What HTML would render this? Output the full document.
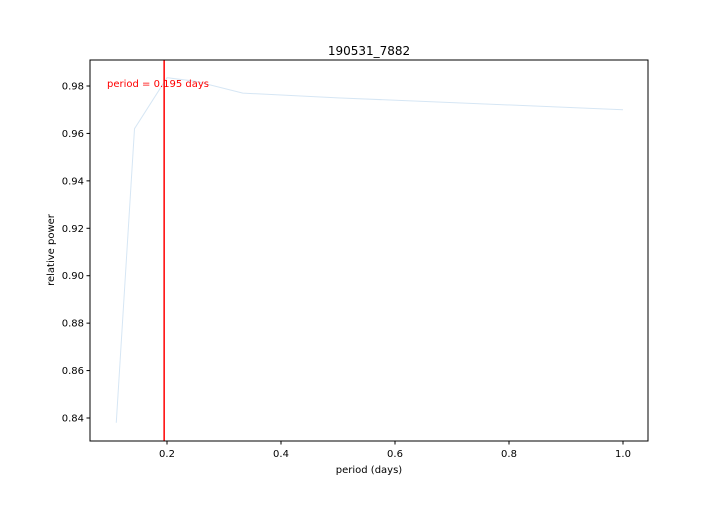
<!DOCTYPE html>
<html><head><meta charset="utf-8"><style>
body{margin:0;background:#fff;}
svg text{font-family:"DejaVu Sans","Liberation Sans",sans-serif;}
</style></head><body>
<svg id="chart" width="720" height="504">
<rect width="720" height="504" fill="#fff"/>
<text x="369" y="55" font-size="12" text-anchor="middle">190531_7882</text>
<g id="ticks"></g>
<g id="plot"></g>
<rect x="90" y="60" width="558" height="381" fill="none" stroke="#000" stroke-width="1"/>
<text x="247" y="473" font-size="10" text-anchor="middle" transform="translate(122,0)">period (days)</text>
<text transform="translate(54,250) rotate(-90)" font-size="10" text-anchor="middle">relative power</text>
</svg>
<script>
const periods=[0.111,0.143,0.2,0.25,0.333,0.5,1.0];
const powers=[0.838,0.962,0.9835,0.982,0.977,0.975,0.970];
const xTicks=[0.2,0.4,0.6,0.8,1.0];
const yTicks=[0.84,0.86,0.88,0.90,0.92,0.94,0.96,0.98];
const bestPeriod=0.195;
const X=v=>53+570*v;
const Y=v=>86+(0.98-v)*2371.4;
const ns="http://www.w3.org/2000/svg";
const tg=document.getElementById('ticks'),pg=document.getElementById('plot');
function mk(t,a,p){const e=document.createElementNS(ns,t);for(const k in a)e.setAttribute(k,a[k]);p.appendChild(e);return e;}
xTicks.forEach(v=>{const x=X(v);
const l=mk('line',{x1:x,x2:x,y1:441,y2:444.5,stroke:'#000'},tg);


const t=mk('text',{x:x,y:457,'font-size':10,'text-anchor':'middle'},tg);t.textContent=v.toFixed(1);

});
yTicks.forEach(v=>{const y=Y(v);
const l=mk('line',{x1:86.5,x2:90,y1:y,y2:y,stroke:'#000'},tg);


const t=mk('text',{x:84,y:y+3.5,'font-size':10,'text-anchor':'end'},tg);t.textContent=v.toFixed(2);

});
const line=mk('polyline',{points:periods.map((p,i)=>X(p)+','+Y(powers[i])).join(' '),fill:'none',stroke:'#d6e6f4','stroke-width':1},pg);


const rl=mk('line',{x1:X(bestPeriod),x2:X(bestPeriod),y1:60,y2:441,stroke:'#ff0000','stroke-width':1.5},pg);


const lab=mk('text',{x:107,y:87,'font-size':10,fill:'#ff0000'},pg);lab.textContent='period = '+bestPeriod+' days';


</script>
</body></html>
